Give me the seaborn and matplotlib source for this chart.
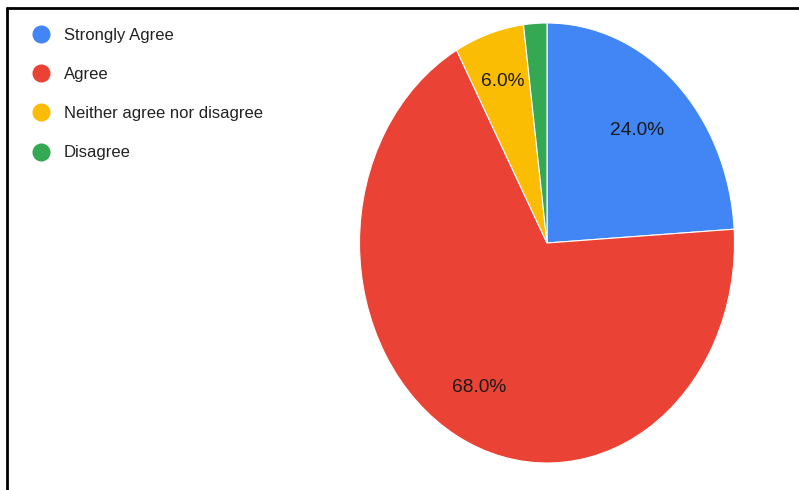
import matplotlib
matplotlib.use("Agg")
import numpy as np
import matplotlib.pyplot as plt
from matplotlib.lines import Line2D
import seaborn as sns

# Survey responses
categories = ["Strongly Agree", "Agree", "Neither agree nor disagree", "Disagree"]
shares = [24.0, 68.0, 6.0, 2.0]
colors = ["#4285F4", "#EA4335", "#FBBC04", "#34A853"]

# Radial placement of each percentage label (fraction of the radius)
label_dist = [0.70, 0.75, 0.77, 0.77]

sns.set_theme(style="white")
plt.rcParams["font.family"] = ["Liberation Sans", "DejaVu Sans"]

palette = sns.color_palette(colors)

fig = plt.figure(figsize=(7.99, 4.90), dpi=100)
fig.patch.set_facecolor("white")

W, H = 799, 490
cx, cy, rx, ry = 547, 243, 187.5, 220
ax = fig.add_axes([(cx - rx) / W, (H - cy - ry) / H, 2 * rx / W, 2 * ry / H])

def pct_label(p):
    return f"{p:.1f}%" if p >= 5 else ""

wedges, texts, autotexts = ax.pie(
    shares,
    colors=palette,
    startangle=90,
    counterclock=False,
    autopct=pct_label,
    pctdistance=0.7,
    radius=1.0,
    wedgeprops=dict(edgecolor="white", linewidth=0.8),
    textprops=dict(fontsize=13.8, color="#1a1a1a"),
)
for w, t, d in zip(wedges, autotexts, label_dist):
    mid = np.deg2rad((w.theta1 + w.theta2) / 2)
    t.set_position((d * np.cos(mid), d * np.sin(mid)))
ax.set_aspect("auto")
ax.set_xlim(-1, 1)
ax.set_ylim(-1, 1)
ax.axis("off")

# Legend with round markers
handles = [
    Line2D([0], [0], marker="o", linestyle="", markersize=12,
           markerfacecolor=c, markeredgecolor=c)
    for c in palette
]
leg = fig.legend(
    handles, categories,
    loc="upper left",
    bbox_to_anchor=(31 / W, 1 - 28 / H),
    frameon=False,
    fontsize=12,
    labelspacing=1.45,
    handletextpad=0.75,
    handlelength=1.2,
    borderaxespad=0,
    borderpad=0,
)
for t in leg.get_texts():
    t.set_color("#222222")

# Frame lines along the top and left edges
fig.add_artist(Line2D([7 / W, 1], [1 - 8 / H, 1 - 8 / H], color="black", lw=2,
                      transform=fig.transFigure))
fig.add_artist(Line2D([7 / W, 7 / W], [0, 1 - 8 / H], color="black", lw=2,
                      transform=fig.transFigure))

fig.savefig("out.png", dpi=100, facecolor="white")
